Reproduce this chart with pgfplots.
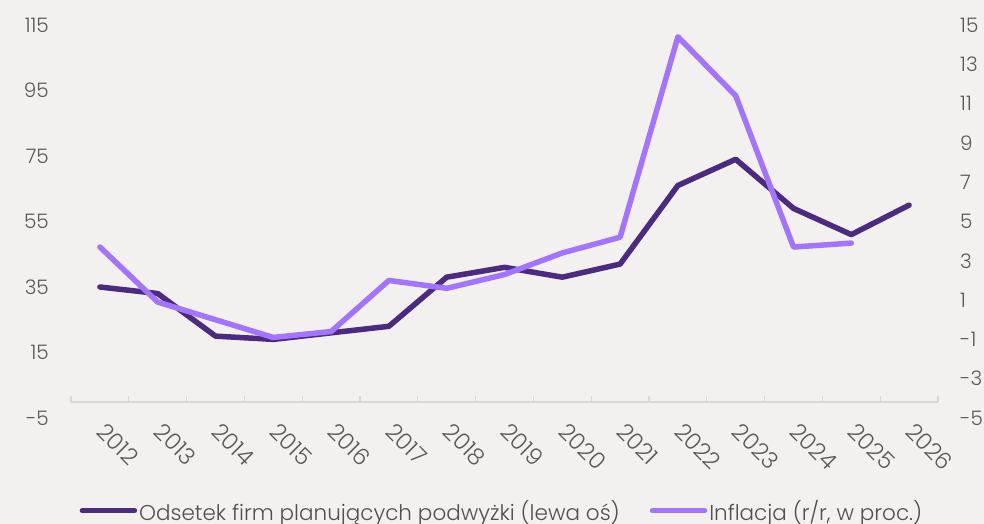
\documentclass[border=0pt]{standalone}
\usepackage{pgfplots}
\pgfplotsset{compat=1.18}
\usepackage{fontspec}
\setmainfont{Poppins Light}
\definecolor{bg}{HTML}{F2F1F0}
\definecolor{dark}{HTML}{4B2A7F}
\definecolor{light}{HTML}{A374FF}
\definecolor{ticktxt}{HTML}{595959}
\definecolor{legtxt}{HTML}{505050}
\definecolor{axgray}{HTML}{D9D9D9}
\begin{document}
\begin{tikzpicture}
\path[fill=bg] (0,0) rectangle (984pt,524pt);
% x axis
\begin{axis}[
  at={(71pt,122pt)}, anchor=south west,
  scale only axis, width=867pt, height=10pt,
  xmin=-0.5, xmax=14.5, ymin=0, ymax=1,
  axis x line*=bottom, axis y line=none,
  x axis line style={draw=axgray, line width=1.2pt, -},
  xtick={0,...,14},
  xticklabels={2012,2013,2014,2015,2016,2017,2018,2019,2020,2021,2022,2023,2024,2025,2026},
  minor xtick={-0.5,0.5,...,14.5},
  major tick length=0pt, minor tick length=6pt, tick align=inside,
  minor tick style={draw=axgray, line width=1.2pt},
  xticklabel style={font=\fontsize{23}{25}\selectfont, text=ticktxt, inner sep=0pt, xshift=7pt, yshift=-19pt, rotate=-45, anchor=north west},
]
\addplot[draw=none] coordinates {(0,0.5)};
\end{axis}
% left axis
\begin{axis}[
  at={(71pt,106pt)}, anchor=south west,
  scale only axis, width=867pt, height=393pt,
  xmin=-0.5, xmax=14.5, ymin=-5, ymax=115,
  axis x line=none, axis y line*=left,
  y axis line style={draw=none},
  ytick={-5,15,...,115}, major tick length=0pt,
  yticklabel style={font=\fontsize{20}{22}\selectfont, text=ticktxt, inner sep=0pt, anchor=east, xshift=-22pt},
  /pgf/number format/assume math mode=true,
  legend style={at={(0.497,-0.236)}, anchor=center, draw=none, fill=none,
    legend columns=2, font=\fontsize{21.5}{23}\selectfont, text=legtxt,
    /tikz/every even column/.append style={column sep=28pt}},
  legend image code/.code={\draw[#1, line cap=round] (0pt,0pt) -- (52pt,0pt);},
]
\addplot[dark, line width=5.5pt, line join=round, line cap=round] coordinates {
(0,35) (1,33) (2,20) (3,19) (4,21) (5,23) (6,38) (7,41) (8,38) (9,42) (10,66) (11,74) (12,59) (13,51) (14,60)};
\addlegendentry{Odsetek firm planujących podwyżki (lewa oś)}
\addlegendimage{light, line width=5.5pt}
\addlegendentry{Inflacja (r/r, w proc.)}
\end{axis}
% right axis
\begin{axis}[
  at={(71pt,106pt)}, anchor=south west,
  scale only axis, width=867pt, height=393pt,
  xmin=-0.5, xmax=14.5, ymin=-5, ymax=15,
  axis x line=none, axis y line*=right,
  y axis line style={draw=none},
  ytick={-5,-3,...,15}, major tick length=0pt,
  yticklabel style={font=\fontsize{20}{22}\selectfont, text=ticktxt, inner sep=0pt, anchor=west, xshift=22pt},
  /pgf/number format/assume math mode=true,
]
\addplot[light, line width=5.5pt, line join=round, line cap=round] coordinates {
(0,3.7) (1,0.9) (2,0.0) (3,-0.9) (4,-0.6) (5,2.0) (6,1.6) (7,2.3) (8,3.4) (9,4.2) (10,14.4) (11,11.4) (12,3.7) (13,3.9)};
\end{axis}
\pgfresetboundingbox
\path (0,0) rectangle (984pt,524pt);
\end{tikzpicture}
\end{document}
